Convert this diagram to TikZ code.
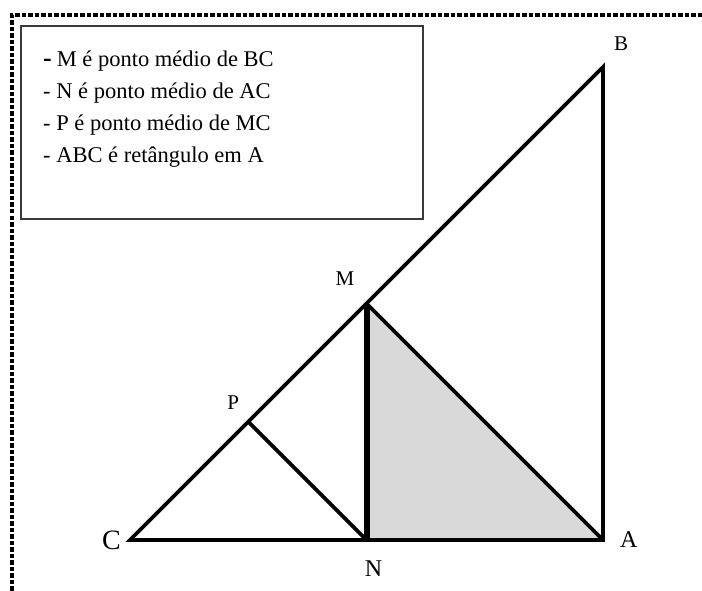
\documentclass[tikz,border=0pt]{standalone}
\usepackage{fontspec}
\setmainfont{Liberation Serif}
\usetikzlibrary{positioning,calc}
\definecolor{shadegray}{HTML}{D9D9D9}
\definecolor{boxgray}{HTML}{3A3A3A}

\begin{document}
\begin{tikzpicture}[
		x=1pt, y=-1pt,
		every node/.style={inner sep=0pt},
		side/.style={line width=3.6pt, line join=miter},
		median/.style={line width=6pt},
		vertex/.style={font=\fontsize{21}{21}\selectfont},
		hyp/.style={anchor=base west, font=\fontsize{22.5}{22.5}\selectfont},
		frameline/.style={line width=4.5pt, dash pattern=on 4.5pt off 2pt}
	]
		\useasboundingbox (0,0) rectangle (702,591);

		% moldura pontilhada
		\coordinate (frameTL) at (12,15);
		\coordinate (frameTR) at (702,15);
		\coordinate (frameBL) at (12,591);
		\draw[frameline] (frameTR) -- (frameTL) -- (frameBL);

		% hipoteses
		\node[draw=boxgray, line width=2.2pt, anchor=north west,
			minimum width=402pt, minimum height=193pt] (hipoteses) at (20,25) {};
		\node[hyp] (hypM) at (43,67)
			{{\bfseries\fontsize{26}{26}\selectfont -}\hspace{5pt}M é ponto médio de BC};
		\node[hyp] (hypN) at (43,99) {- N é ponto médio de AC};
		\node[hyp] (hypP) at (43,131) {- P é ponto médio de MC};
		\node[hyp] (hypABC) at (43,163) {- ABC é retângulo em A};

		% triangulo
		\coordinate (C) at (130,540);
		\coordinate (A) at (603,540);
		\coordinate (B) at (603,67);
		\coordinate (M) at ($(B)!0.5!(C)$);
		\coordinate (N) at ($(A)!0.5!(C)$);
		\coordinate (P) at ($(M)!0.5!(C)$);

		\fill[shadegray] (M) -- (N) -- (A) -- cycle;
		\draw[side] (C) -- (A) -- (B) -- cycle;
		\draw[side] (M) -- (A);
		\draw[side] (P) -- (N);
		\draw[median] (M) -- (N);

		\node[vertex, above right=16pt and 11pt of B] (labelB) {B};
		\node[vertex, above left=18pt and 12pt of M] (labelM) {M};
		\node[vertex, above left=12pt and 9pt of P] (labelP) {P};
		\node[vertex, font=\fontsize{28}{28}\selectfont, left=9pt of C] (labelC) {C};
		\node[vertex, font=\fontsize{24}{24}\selectfont, right=17pt of A] (labelA) {A};
		\node[vertex, font=\fontsize{24}{24}\selectfont, below=21pt of N, xshift=7pt] (labelN) {N};
	\end{tikzpicture}
\end{document}
